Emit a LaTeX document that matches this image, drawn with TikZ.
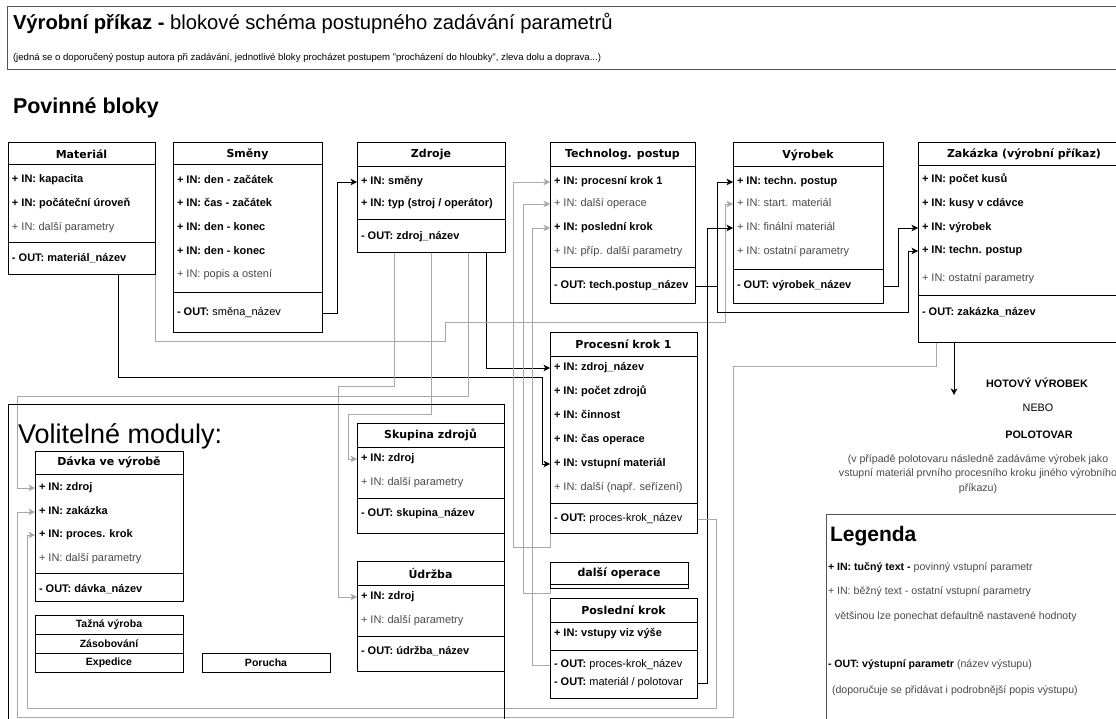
\documentclass[tikz,border=0pt]{standalone}
\usepackage{fontspec}
\setmainfont{Liberation Sans}
\newfontfamily\hdrfont{DejaVu Sans}
\usetikzlibrary{arrows.meta,calc}

\definecolor{linkgray}{HTML}{A8A8A8}
\definecolor{softtext}{HTML}{4A4A4A}
\definecolor{framegray}{HTML}{555555}

\newcommand{\setfs}[1]{\fontsize{#1pt}{1.25\dimexpr#1pt\relax}\selectfont}

\pgfdeclarelayer{paper}
\pgfdeclarelayer{links}
\pgfsetlayers{paper,links,main}

% block with a header: name, x, y, width, height, header height, title
\newcommand{\umlblock}[7]{%
  \node[frame, minimum width=#4pt, minimum height=#5pt, anchor=north west] (#1) at (#2,#3) {};
  \node[hdr] (#1-title) at ($(#1.north)+(0,#6/2)$) {#7};
  \draw[sepline] ($(#1.north west)+(0,#6)$) -- ($(#1.north east)+(0,#6)$);
}
% horizontal separator inside a block at height y
\newcommand{\sepat}[2]{\draw[sepline] (#1.west |- 0,#2) -- (#1.east |- 0,#2);}

\tikzset{
  frame/.style={draw=black, line width=1pt, fill=white, inner sep=0pt, outer sep=0pt},
  sepline/.style={draw=black, line width=1pt},
  hdr/.style={font=\hdrfont\bfseries\setfs{11}, inner sep=0pt},
  rowbase/.style={anchor=west, inner xsep=4pt, inner ysep=0pt, outer sep=0pt,
                  text height=8pt, text depth=2.5pt},
  rowb/.style={rowbase, font=\bfseries\setfs{11}},
  rowr/.style={rowbase, text=softtext, font=\setfs{11}},
  rowo/.style={rowbase, font=\setfs{11}},
  smallbox/.style={draw=black, line width=1pt, fill=white, inner sep=0pt, outer sep=0pt,
                   minimum height=19pt, font=\bfseries\setfs{10.5}},
  plain/.style={inner sep=0pt, outer sep=0pt},
  tip/.style={-{Stealth[length=6.5pt,width=6.5pt,inset=1.8pt]}},
  linkblack/.style={draw=black, line width=0.9pt},
  linkgray/.style={draw=linkgray, line width=0.9pt},
  legtext/.style={plain, anchor=west, font=\setfs{10.6}, text=softtext},
}

\begin{document}
\begin{tikzpicture}[x=1pt,y=-1pt]
\begin{pgfonlayer}{paper}
  \fill[white] (0,0) rectangle (1116,719);
\end{pgfonlayer}
\useasboundingbox (0,0) rectangle (1116,719);
\clip (0,0) rectangle (1116,719);

% ---------- heading ----------
\node[draw=framegray, line width=1pt, minimum width=1123pt, minimum height=63pt,
      anchor=north west, plain] (titlebox) at (7,7) {};
\node[plain, anchor=base west, font=\setfs{20.2}] (title) at (13,30)
  {\textbf{Výrobní příkaz -} blokové schéma postupného zadávání parametrů};
\node[plain, anchor=base west, font=\setfs{9.6}] (subtitle) at (13,61)
  {(jedná se o doporučený postup autora při zadávání, jednotlivé bloky procházet postupem "procházení do hloubky", zleva dolu a doprava...)};
\node[plain, anchor=base west, font=\bfseries\setfs{21.5}] (povinne) at (13,114) {Povinné bloky};

% ---------- optional modules frame ----------
\node[draw=black, line width=1pt, minimum width=496pt, minimum height=330pt,
      anchor=north west, plain] (volit) at (8,404) {};
\node[plain, anchor=base west, font=\setfs{27}] (volit-title) at (18,443) {Volitelné moduly:};

% ---------- mandatory blocks ----------
\umlblock{mat}{8}{143}{147}{132}{22}{Materiál}
\node[rowb] (mat-kap) at (mat.west |- 0,180) {+ IN: kapacita};
\node[rowb] (mat-poc) at (mat.west |- 0,204) {+ IN: počáteční úroveň};
\node[rowr] (mat-dal) at (mat.west |- 0,228) {+ IN: další parametry};
\sepat{mat}{243}
\node[rowb] (mat-out) at (mat.west |- 0,259) {- OUT: materiál\_název};

\umlblock{smeny}{173}{143}{149}{189}{22}{Směny}
\node[rowb] (smeny-dz) at (smeny.west |- 0,181) {+ IN: den - začátek};
\node[rowb] (smeny-cz) at (smeny.west |- 0,204) {+ IN: čas - začátek};
\node[rowb] (smeny-dk) at (smeny.west |- 0,228) {+ IN: den - konec};
\node[rowb] (smeny-dk2) at (smeny.west |- 0,252) {+ IN: den - konec};
\node[rowr] (smeny-pop) at (smeny.west |- 0,275) {+ IN: popis a ostení};
\sepat{smeny}{293}
\node[rowo] (smeny-out) at (smeny.west |- 0,313) {\textbf{- OUT:} směna\_název};

\umlblock{zdroje}{357}{143}{148}{110}{24}{Zdroje}
\node[rowb] (zdroje-smeny) at (zdroje.west |- 0,182) {+ IN: směny};
\node[rowb] (zdroje-typ) at (zdroje.west |- 0,204) {+ IN: typ (stroj / operátor)};
\sepat{zdroje}{220}
\node[rowb] (zdroje-out) at (zdroje.west |- 0,237) {- OUT: zdroj\_název};

\umlblock{tp}{550}{143}{145}{160}{24}{Technolog. postup}
\node[rowb] (tp-pk1) at (tp.west |- 0,182) {+ IN: procesní krok 1};
\node[rowr] (tp-dop) at (tp.west |- 0,204) {+ IN: další operace};
\node[rowb] (tp-posl) at (tp.west |- 0,228) {+ IN: poslední krok};
\node[rowr] (tp-dal) at (tp.west |- 0,252) {+ IN: příp. další parametry};
\sepat{tp}{268}
\node[rowb] (tp-out) at (tp.west |- 0,286) {- OUT: tech.postup\_název};

\umlblock{vyr}{733}{143}{150}{160}{24}{Výrobek}
\node[rowb] (vyr-tp) at (vyr.west |- 0,182) {+ IN: techn. postup};
\node[rowr] (vyr-start) at (vyr.west |- 0,204) {+ IN: start. materiál};
\node[rowr] (vyr-fin) at (vyr.west |- 0,228) {+ IN: finální materiál};
\node[rowr] (vyr-ost) at (vyr.west |- 0,252) {+ IN: ostatní parametry};
\sepat{vyr}{270}
\node[rowb] (vyr-out) at (vyr.west |- 0,286) {- OUT: výrobek\_název};

\umlblock{zak}{918}{143}{212}{199}{23}{Zakázka (výrobní příkaz)}
\node[rowb] (zak-kusy) at (zak.west |- 0,180) {+ IN: počet kusů};
\node[rowb] (zak-davka) at (zak.west |- 0,204) {+ IN: kusy v cdávce};
\node[rowb] (zak-vyr) at (zak.west |- 0,228) {+ IN: výrobek};
\node[rowb] (zak-tp) at (zak.west |- 0,251) {+ IN: techn. postup};
\node[rowr] (zak-ost) at (zak.west |- 0,279) {+ IN: ostatní parametry};
\sepat{zak}{296}
\node[rowb] (zak-out) at (zak.west |- 0,313) {- OUT: zakázka\_název};

\umlblock{pk}{550}{332}{147}{201}{24}{Procesní krok 1}
\node[rowb] (pk-zn) at (pk.west |- 0,368) {+ IN: zdroj\_název};
\node[rowb] (pk-poc) at (pk.west |- 0,392) {+ IN: počet zdrojů};
\node[rowb] (pk-cin) at (pk.west |- 0,416) {+ IN: činnost};
\node[rowb] (pk-cas) at (pk.west |- 0,440) {+ IN: čas operace};
\node[rowb] (pk-vst) at (pk.west |- 0,464) {+ IN: vstupní materiál};
\node[rowr] (pk-dal) at (pk.west |- 0,488) {+ IN: další (např. seřízení)};
\sepat{pk}{503}
\node[rowo] (pk-out) at (pk.west |- 0,519) {\textbf{- OUT:} proces-krok\_název};

\umlblock{dop}{550}{562}{138}{26}{22}{další operace}

\umlblock{pos}{550}{598}{147}{100}{24}{Poslední krok}
\node[rowb] (pos-vst) at (pos.west |- 0,634) {+ IN: vstupy viz výše};
\sepat{pos}{650}
\node[rowo] (pos-out1) at (pos.west |- 0,665) {\textbf{- OUT:} proces-krok\_název};
\node[rowo] (pos-out2) at (pos.west |- 0,683) {\textbf{- OUT:} materiál / polotovar};

% ---------- optional blocks ----------
\umlblock{sk}{357}{423}{147}{110}{24}{Skupina zdrojů}
\node[rowb] (sk-zdroj) at (sk.west |- 0,459) {+ IN: zdroj};
\node[rowr] (sk-dal) at (sk.west |- 0,483) {+ IN: další parametry};
\sepat{sk}{498}
\node[rowb] (sk-out) at (sk.west |- 0,514) {- OUT: skupina\_název};

\umlblock{udr}{357}{561}{147}{110}{24}{Údržba}
\node[rowb] (udr-zdroj) at (udr.west |- 0,597) {+ IN: zdroj};
\node[rowr] (udr-dal) at (udr.west |- 0,621) {+ IN: další parametry};
\sepat{udr}{636}
\node[rowb] (udr-out) at (udr.west |- 0,652) {- OUT: údržba\_název};

\umlblock{dav}{35}{451}{148}{150}{23}{Dávka ve výrobě}
\node[rowb] (dav-zdroj) at (dav.west |- 0,488) {+ IN: zdroj};
\node[rowb] (dav-zak) at (dav.west |- 0,512) {+ IN: zakázka};
\node[rowb] (dav-pk) at (dav.west |- 0,535) {+ IN: proces. krok};
\node[rowr] (dav-dal) at (dav.west |- 0,559) {+ IN: další parametry};
\sepat{dav}{573}
\node[rowb] (dav-out) at (dav.west |- 0,590) {- OUT: dávka\_název};

\node[smallbox, minimum width=148pt, anchor=north west] (tazna) at (35,615) {Tažná výroba};
\node[smallbox, minimum width=148pt, anchor=north west] (zasob) at (35,634) {Zásobování};
\node[smallbox, minimum width=148pt, anchor=north west] (exped) at (35,653) {Expedice};
\node[smallbox, minimum width=128pt, anchor=north west] (porucha) at (202,653) {Porucha};

% ---------- result note ----------
\coordinate (hotovo) at (954,395);
\node[plain, font=\bfseries\setfs{10.8}] (hotovy) at (1037,383) {HOTOVÝ VÝROBEK};
\node[plain, font=\setfs{10.8}] (nebo) at (1038,408) {NEBO};
\node[plain, font=\bfseries\setfs{10.8}] (polotovar) at (1039,435) {POLOTOVAR};
\node[plain, align=center, text=softtext, font=\fontsize{10.6pt}{14.5pt}\selectfont] (pozn) at (978,474)
  {(v případě polotovaru následně zadáváme výrobek jako\\vstupní materiál prvního procesního kroku jiného výrobního\\příkazu)};

% ---------- legend ----------
\node[draw=framegray, line width=1pt, minimum width=310pt, minimum height=220pt,
      anchor=north west, plain] (legend) at (826,514) {};
\node[plain, anchor=base west, font=\bfseries\setfs{21}] (legend-title) at (830,541) {Legenda};
\node[legtext] (leg1) at (828,568) {\textcolor{black}{\textbf{+ IN: tučný text -}} povinný vstupní parametr};
\node[legtext] (leg2) at (828,592) {+ IN: běžný text - ostatní vstupní parametry};
\node[legtext] (leg3) at (835,617) {většinou lze ponechat defaultně nastavené hodnoty};
\node[legtext] (leg4) at (828,665) {\textcolor{black}{\textbf{- OUT: výstupní parametr}} (název výstupu)};
\node[legtext] (leg5) at (832,691) {(doporučuje se přidávat i podrobnější popis výstupu)};

% ---------- connectors ----------
\begin{pgfonlayer}{links}
  % shifts -> resources
  \draw[linkblack, tip] (smeny-out -| smeny.east) -- ++(15,0) |- (zdroje-smeny.west);
  % material -> input material of step 1
  \draw[linkblack, tip] ([xshift=36.5pt]mat.south) -- ++(0,102) -| ([xshift=-8pt]pk-vst.west) -- (pk-vst.west);
  % resource name -> step 1
  \draw[linkblack, tip] ([xshift=55pt]zdroje.south) |- (pk-zn.west);
  % resource -> maintenance, group, batch
  \draw[linkgray, tip] ([xshift=-37pt]zdroje.south) -- ++(0,133) -| ([xshift=-19pt]udr-zdroj.west) -- (udr-zdroj.west);
  \draw[linkgray, tip] (zdroje.south) -- ++(0,161) -| ([xshift=-9pt]sk-zdroj.west) -- (sk-zdroj.west);
  \draw[linkgray, tip] ([xshift=37pt]zdroje.south) -- ++(0,143) -| ([xshift=-18pt]dav-zdroj.west) -- (dav-zdroj.west);
  % material -> start material of product
  \draw[linkgray, tip] (mat.south east) -- ++(0,66) -- ++(290,0) -- ++(0,-19) -| ([xshift=-8pt]vyr-start.west) -- (vyr-start.west);
  % steps -> technological procedure
  \draw[linkgray, tip] (pk.south west) -- ++(0,14) -| ([xshift=-37pt]tp-pk1.west) -- (tp-pk1.west);
  \draw[linkgray, tip] (dop.south west) -- ++(0,5) -| ([xshift=-27pt]tp-dop.west) -- (tp-dop.west);
  \draw[linkgray, tip] (pos-out1.west) -| ([xshift=-18pt]tp-posl.west) -- (tp-posl.west);
  % procedure -> product and order
  \draw[linkblack, tip] (tp-out -| tp.east) -- ++(22,0) |- (vyr-tp.west);
  \draw[linkblack, tip] (tp-out -| tp.east) -- ++(22,0) -- ++(0,26) -| ([xshift=-10pt]zak-tp.west) -- (zak-tp.west);
  % last step material -> final material
  \draw[linkblack, tip] (pos-out2 -| pos.east) -- ++(10,0) |- (vyr-fin.west);
  % product -> order
  \draw[linkblack, tip] (vyr-out -| vyr.east) -- ++(15,0) |- (zak-vyr.west);
  % step 1 -> batch
  \draw[linkgray, tip] (pk-out -| pk.east) -- ++(19,0) -- ++(0,189) -| ([xshift=-8pt]dav-pk.west) -- (dav-pk.west);
  % order -> batch
  \draw[linkgray, tip] ([xshift=-88pt]zak.south) -- ++(0,24) -- ++(-203,0) -- ++(0,351) -| ([xshift=-18pt]dav-zak.west) -- (dav-zak.west);
  % order -> finished product
  \draw[linkblack, tip] ([xshift=-70pt]zak.south) -- (hotovo);
\end{pgfonlayer}
\end{tikzpicture}
\end{document}
